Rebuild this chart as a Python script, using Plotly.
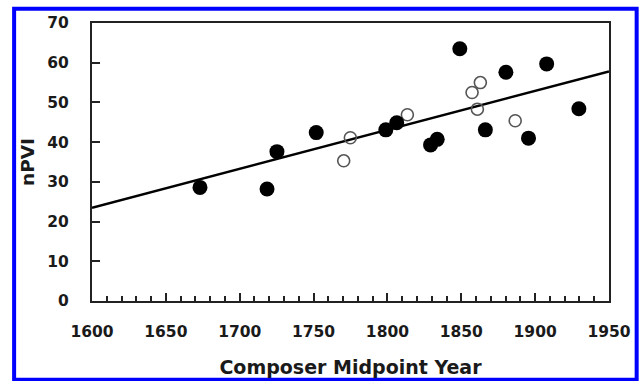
import plotly.graph_objects as go

# Data
filled_years = [1673.1, 1718.5, 1725.2, 1751.8, 1798.9, 1806.3, 1829.2, 1833.7,
                1849.0, 1866.3, 1880.2, 1895.5, 1907.8, 1929.6]
filled_npvi = [28.6, 28.2, 37.6, 42.4, 43.1, 44.9, 39.3, 40.7,
               63.5, 43.1, 57.6, 41.0, 59.7, 48.4]
open_years = [1770.4, 1774.9, 1813.5, 1857.3, 1862.9, 1860.9, 1886.5]
open_npvi = [35.3, 41.1, 46.9, 52.5, 55.0, 48.3, 45.4]
trend_years = [1600, 1950]
trend_npvi = [23.5, 57.8]

x_ticks = [1600, 1650, 1700, 1750, 1800, 1850, 1900, 1950]
y_ticks = [0, 10, 20, 30, 40, 50, 60, 70]

W, H = 639, 381
ml, mr, mt, mb = 91.5, 29.7, 22.7, 80.3
pw, ph = W - ml - mr, H - mt - mb

fig = go.Figure()
fig.add_trace(go.Scatter(x=trend_years, y=trend_npvi, mode="lines",
                         line=dict(color="black", width=2.5), hoverinfo="skip"))
fig.add_trace(go.Scatter(x=open_years, y=open_npvi, mode="markers",
                         marker=dict(symbol="circle-open", size=12,
                                     color="#555555", line=dict(width=1.6, color="#555555"))))
fig.add_trace(go.Scatter(x=filled_years, y=filled_npvi, mode="markers",
                         marker=dict(symbol="circle", size=15, color="black",
                                     line=dict(width=0))))

font_family = "'DejaVu Sans', sans-serif"
text_color = "#1a1a1a"

def px_to_paper_x(px):
    return (px - ml) / pw

def px_to_paper_y(py):
    return (H - mb - py) / ph

fig.add_shape(type="rect", xref="paper", yref="paper",
              x0=px_to_paper_x(13.5), x1=px_to_paper_x(637),
              y0=px_to_paper_y(379.5), y1=px_to_paper_y(8.5),
              line=dict(color="#0000ff", width=4), fillcolor="rgba(0,0,0,0)",
              layer="below")

fig.update_layout(
    width=W, height=H,
    margin=dict(l=ml, r=mr, t=mt, b=mb, pad=0, autoexpand=False),
    paper_bgcolor="white", plot_bgcolor="white",
    showlegend=False,
    font=dict(family=font_family, color=text_color, size=15),
    xaxis=dict(
        range=[1600, 1950], tickvals=x_ticks, ticktext=[str(v) for v in x_ticks],
        showgrid=False, zeroline=False, automargin=False,
        showline=True, linecolor="#222222", linewidth=2, mirror=True,
        ticks="inside", ticklen=8, tickwidth=1.5, tickcolor="#222222",
        minor=dict(dtick=10, tick0=1600, ticks="inside", ticklen=5, tickwidth=1.5,
                   tickcolor="#222222", showgrid=False),
        tickfont=dict(family=font_family, size=15.5, color=text_color, weight="bold"),
        ticklabelstandoff=15,
        title=dict(text="<b>Composer Midpoint Year</b>", standoff=21,
                   font=dict(family=font_family, size=19, color=text_color)),
    ),
    yaxis=dict(
        range=[0, 70], tickvals=y_ticks, ticktext=[str(v) for v in y_ticks],
        showgrid=False, zeroline=False, automargin=False,
        showline=True, linecolor="#222222", linewidth=2, mirror=True,
        ticks="inside", ticklen=8, tickwidth=1.5, tickcolor="#222222",
        tickfont=dict(family=font_family, size=15.5, color=text_color, weight="bold"),
        ticklabelstandoff=18,
        title=dict(text="<b>nPVI</b>", standoff=8,
                   font=dict(family=font_family, size=18.5, color=text_color)),
    ),
)

fig.write_html("out.html", config={"displayModeBar": False},
               post_script="document.body.style.margin='0';")
